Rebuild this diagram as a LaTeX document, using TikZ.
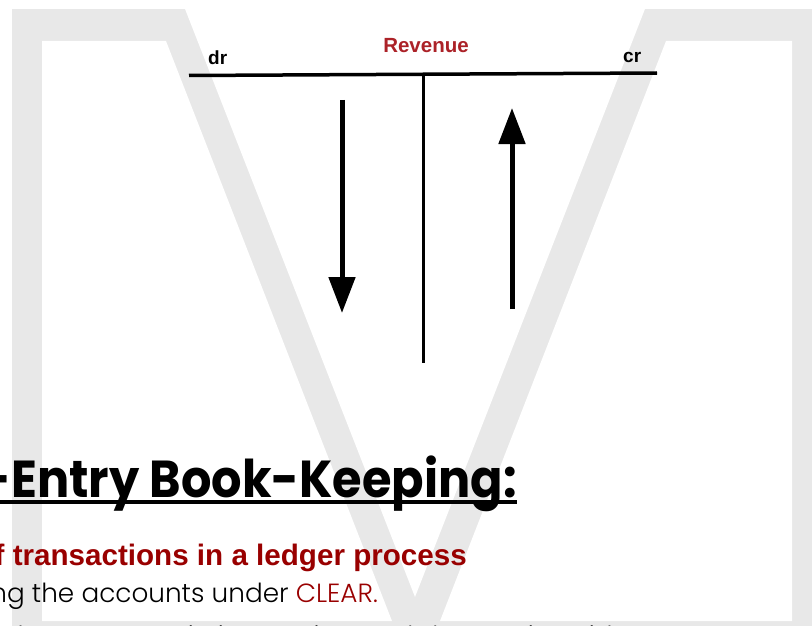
\documentclass[tikz,border=0pt]{standalone}
\usepackage{fontspec}
\setmainfont{Liberation Sans}
\newfontfamily\headfont{Poppins}[FakeStretch=0.92]
\newfontfamily\bodyfont{Poppins Light}
\usetikzlibrary{positioning}
\usetikzlibrary{arrows.meta}
\definecolor{darkred}{HTML}{990000}
\definecolor{revred}{HTML}{AC2228}
\definecolor{markgray}{HTML}{E8E8E8}
\tikzset {
  x=1pt, y=-1pt,
  % watermark letter behind everything
  vmark/.style={fill=markgray, draw=none},
  hole/.style={fill=white, draw=none},
  % T-account
  tline/.style={line width=3.5pt},
  side/.style={font=\bfseries\fontsize{19}{22}\selectfont, inner sep=0pt},
  flow/.style={line width=5pt, -{Triangle[width=26pt, length=36pt]}},
  % slide text
  heading/.style={font=\headfont\bfseries\fontsize{52}{60}\selectfont, inner sep=0pt, anchor=base east},
  lead/.style={font=\bfseries\fontsize{29.6}{33}\selectfont, text=darkred, inner sep=0pt, anchor=base east},
  body/.style={font=\bodyfont\fontsize{26.3}{30}\selectfont, inner sep=0pt},
}

\begin{document}
\begin{tikzpicture}
      \useasboundingbox (0, 0) rectangle (812, 626);

      % the V behind the slide
      \fill[vmark] (12, 9) rectangle (830, 660);
      \fill[hole] (42, 41) -- (166, 41) -- (392, 621) -- (42, 621) -- cycle;
      \fill[hole] (666, 41) -- (792, 41) -- (792, 621) -- (440, 621) -- cycle;
      \fill[hole] (181.5, 0) -- (648.5, 0) -- (415, 597) -- cycle;

      % T-account
      \coordinate (tl) at (189, 75.5);
      \coordinate (tr) at (657, 73);
      \coordinate (tm) at (423, 74);
      \coordinate (bm) at (423, 363);
      \draw [tline] (tl) -- (tr);
      \draw [line width=3pt] (tm) -- (bm);

      \node[side, anchor=base west] (dr) at (208, 65) {dr};
      \node[side, anchor=base west] (cr) at (623, 63) {cr};
      \node[side, font=\bfseries\fontsize{20.5}{24}\selectfont, text=revred, anchor=base] (rev) at (426, 53) {Revenue};

      \coordinate (dtop) at (342, 100);
      \coordinate (dbot) at (342, 313);
      \coordinate (ubot) at (512, 309);
      \coordinate (utop) at (512, 108);
      \draw [flow] (dtop) -- (dbot);
      \draw [flow] (ubot) -- (utop);

      % text below, cut at the left edge
      \node[heading] (title) at (517, 497) {Double-Entry Book-Keeping:};
      \draw [line width=3.5pt] ([yshift=-5pt]title.base west) -- ([yshift=-5pt]title.base east);
      \node[lead] (lead) at (467, 565) {Recording of transactions in a ledger process};
      \node[body, anchor=base east] (using) at (378, 602) {Grouping the accounts under \textcolor{darkred}{CLEAR.}};
      \node[body, anchor=base west] (line3) at (8, 645) {the accounts in increasing and decreasing sides.};
\end{tikzpicture}
\end{document}
